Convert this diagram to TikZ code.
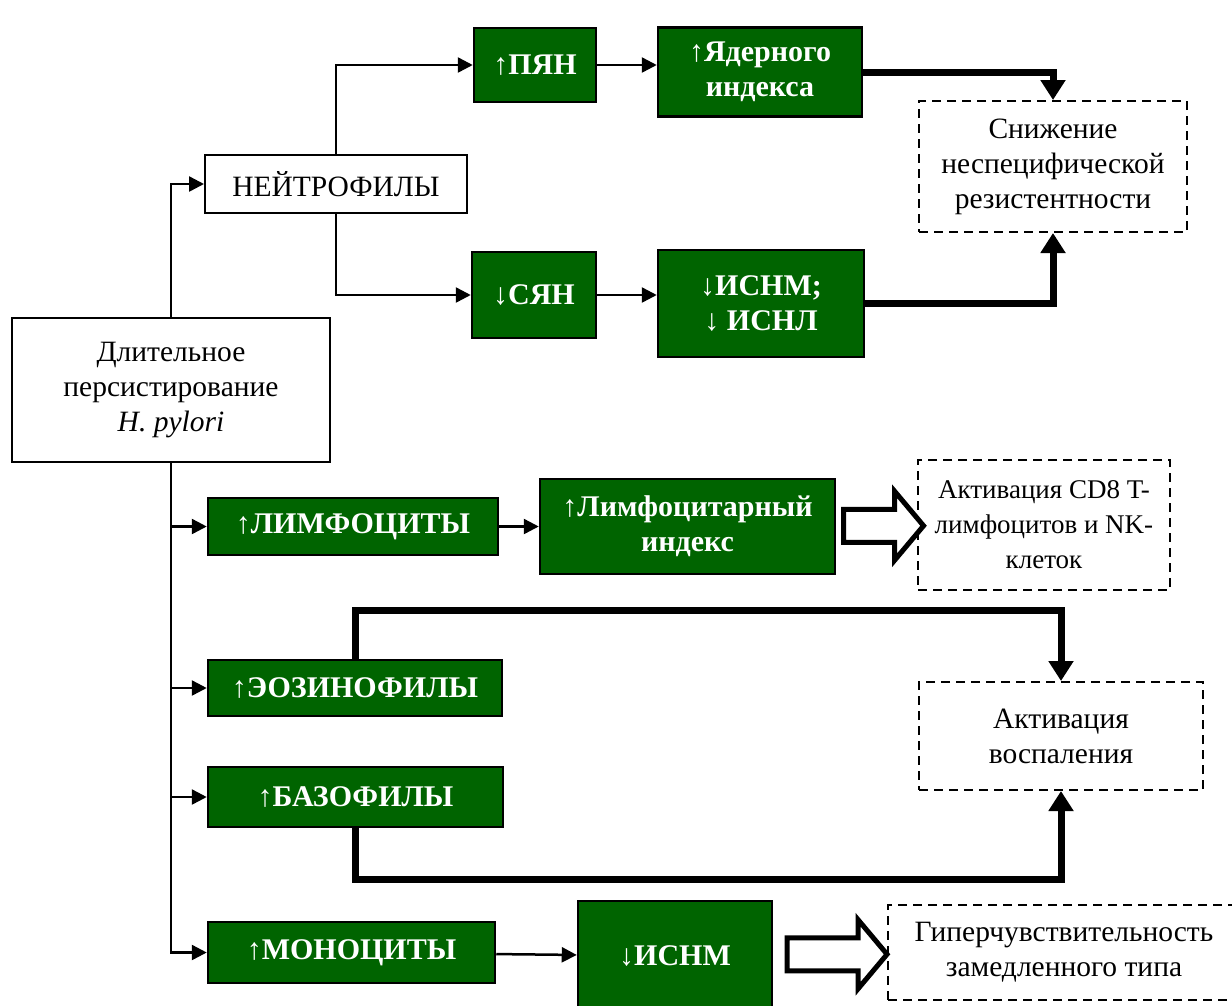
\documentclass[tikz,border=0pt]{standalone}
\usepackage{fontspec}
\setmainfont{Liberation Serif}
\usetikzlibrary{arrows.meta,shapes.arrows}
\definecolor{boxgreen}{HTML}{006400}

\begin{document}
\begin{tikzpicture}[
        x = 1pt, y = 1pt,
        font            = \fontsize{29.5}{35}\selectfont,
        plainbox/.style = {draw, line width=2pt, align=center, inner sep=0pt},
        greenbox/.style = {draw, line width=2.5pt, fill=boxgreen, text=white, align=center, inner sep=0pt,
                           font=\fontsize{30}{35}\selectfont\bfseries},
        dashbox/.style  = {draw, line width=2pt, dash pattern=on 9pt off 6pt, align=center, inner sep=0pt},
        link/.style     = {line width=2.5pt, -{Triangle[length=15pt, width=15pt]}},
        heavy/.style    = {line width=7pt, -{Triangle[length=20pt, width=24pt]}},
        hollow/.style   = {single arrow, draw, line width=5pt, fill=white, inner sep=14pt,
                           single arrow head extend=18pt, single arrow tip angle=100, minimum height=#1}
      ]
    \useasboundingbox (0,0) rectangle (1232,-1005);

    % source
    \node[plainbox, minimum width=318, minimum height=144] (main) at (171,-390) {Длительное\\персистирование\\\textit{H. pylori}};

    % neutrophils
    \node[plainbox, minimum width=262, minimum height=58] (neut) at (336,-184) {НЕЙТРОФИЛЫ};
    \node[greenbox, minimum width=122, minimum height=74] (pyan) at (535,-65) {↑ПЯН};
    \node[greenbox, minimum width=204, minimum height=89] (yad) at (760,-72) {↑Ядерного\\индекса};
    \node[greenbox, minimum width=124, minimum height=86] (syan) at (534,-295) {↓СЯН};
    \node[greenbox, minimum width=206, minimum height=107] (isnl) at (761,-303.5) {↓ИСНМ;\\↓ ИСНЛ};
    \node[dashbox, minimum width=268, minimum height=131] (snizh) at (1053,-166.5) {Снижение\\неспецифической\\резистентности};

    % lymphocytes
    \node[greenbox, minimum width=290, minimum height=57] (lymph) at (353,-526.5) {↑ЛИМФОЦИТЫ};
    \node[greenbox, minimum width=295, minimum height=95] (lind) at (687.5,-526.5) {↑Лимфоцитарный\\индекс};
    \node[dashbox, minimum width=252, minimum height=130, font=\fontsize{27}{35}\selectfont] (cd8) at (1044,-525) {Активация CD8 T-\\лимфоцитов и NK-\\клеток};

    % eosinophils, basophils
    \node[greenbox, minimum width=294, minimum height=56] (eos) at (355,-688) {↑ЭОЗИНОФИЛЫ};
    \node[greenbox, minimum width=295, minimum height=60] (baso) at (355.5,-797) {↑БАЗОФИЛЫ};
    \node[dashbox, minimum width=284, minimum height=108] (vosp) at (1061,-736) {Активация\\воспаления};

    % monocytes
    \node[greenbox, minimum width=287, minimum height=61] (mono) at (351.5,-952.5) {↑МОНОЦИТЫ};
    \node[greenbox, minimum width=194, minimum height=110] (isnm) at (675,-956) {↓ИСНМ};
    \node[dashbox, minimum width=352, minimum height=95] (giper) at (1064,-952.5) {Гиперчувствительность\\замедленного типа};

    \draw[link] (main.north) |- (neut.west);
    \foreach \n in {lymph, eos, baso, mono}
        \draw[link] (main.south) |- (\n.west);
    \draw[link] (neut.north) |- (pyan.west);
    \draw[link] (neut.south) |- (syan.west);
    \draw[link] (pyan.east) -- (yad.west |- pyan.east);
    \draw[link] (syan.east) -- (isnl.west |- syan.east);
    \draw[link] (lymph) -- (lind);
    \draw[link] (mono) -- (isnm);

    \draw[heavy] (yad.east) -| (snizh.north);
    \draw[heavy] (isnl.east) -| (snizh.south);
    \draw[heavy] (eos.north) -- ++(0,48) -| (vosp.north);
    \draw[heavy] (baso.south) -- ++(0,-51) -| (vosp.south);

    \path (lind.east) -- (cd8.west) node[midway, hollow=80] {};
    \path (isnm.east) -- (giper.west) node[midway, hollow=100] {};
\end{tikzpicture}
\end{document}
